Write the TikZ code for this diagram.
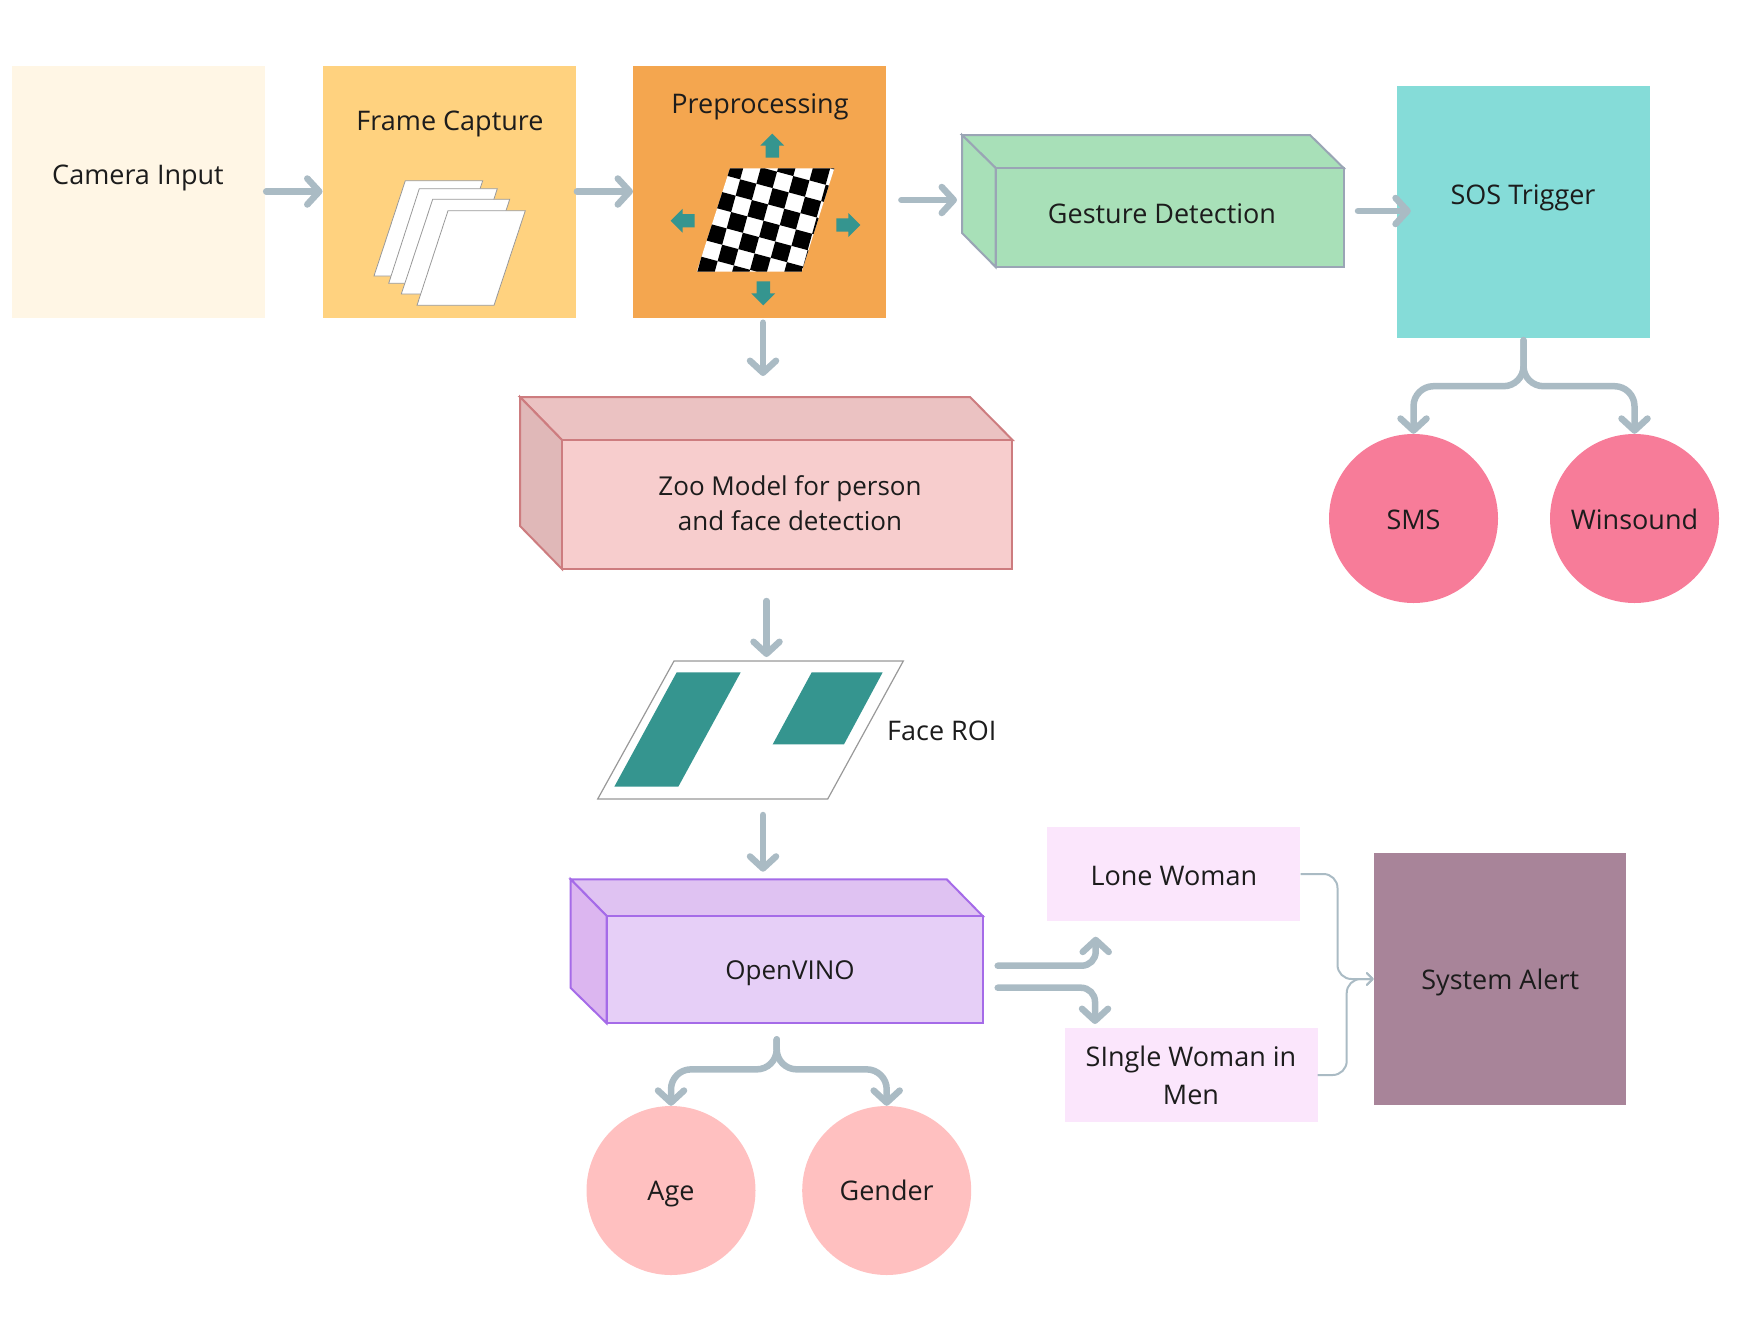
\documentclass[tikz,border=0pt]{standalone}
\usepackage{fontspec}
\setmainfont{Open Sans}
\usetikzlibrary{positioning,arrows.meta,calc,shapes.arrows}

\definecolor{campale}{HTML}{FFF6E5}
\definecolor{framefill}{HTML}{FFD27F}
\definecolor{prefill}{HTML}{F4A64F}
\definecolor{sosfill}{HTML}{85DCD8}
\definecolor{smsfill}{HTML}{F77C99}
\definecolor{agefill}{HTML}{FFC0C0}
\definecolor{alertfill}{HTML}{A88499}
\definecolor{womanfill}{HTML}{FBE6FC}
\definecolor{flowgrey}{HTML}{AABBC4}
\definecolor{tealdark}{HTML}{35958F}
\definecolor{inkdark}{HTML}{1C1C1C}
\definecolor{gesturefill}{HTML}{A8E0B8}
\definecolor{gestureline}{HTML}{9AA5B5}
\definecolor{zoofill}{HTML}{F7CDCD}
\definecolor{zootop}{HTML}{EBC2C2}
\definecolor{zooside}{HTML}{E0B8B8}
\definecolor{zooline}{HTML}{CD7C7F}
\definecolor{vinofill}{HTML}{E6CFF7}
\definecolor{vinotop}{HTML}{DFC2F2}
\definecolor{vinoside}{HTML}{DCB6F0}
\definecolor{vinoline}{HTML}{A56BE8}

\begin{document}
\begin{tikzpicture}[
  x=1pt, y=-1pt,
  txt/.style={font=\fontsize{27}{36}\selectfont, text=inkdark, align=center, inner sep=0pt},
  capline/.style={txt, text height=19.5pt, text depth=0pt},
  lowline/.style={text height=21.5pt},
  panel/.style={minimum width=253pt, minimum height=252pt, inner sep=0pt},
  womanbox/.style={txt, fill=womanfill, minimum width=253pt, minimum height=94pt},
  disc/.style={capline, circle, minimum size=169pt},
  sheet/.style={fill=white, draw=gray!80, line width=0.8pt},
  flow/.style={draw=flowgrey, line width=6.5pt, line cap=round, rounded corners=20pt,
    -{Straight Barb[length=12pt,width=26pt,round]}},
  thinflow/.style={draw=flowgrey, line width=2pt, rounded corners=14pt,
    -{Straight Barb[length=6pt,width=12pt,round]}},
  tealarrow/.style={single arrow, fill=tealdark, minimum height=24pt, minimum width=23.4pt,
    single arrow head extend=5.2pt, inner xsep=0pt, inner ysep=6.5pt}
]
  \useasboundingbox (0,0) rectangle (1760,1341);

  % Top row
  \node[panel, fill=campale] (camera) at (138.5,191.5) {};
  \node[capline] (cameratxt) at (138,174.5) {Camera Input};
  \node[panel, fill=framefill] (frame) at (449.2,191.5) {};
  \node[capline] (frametxt) at (450,120.5) {Frame Capture};
  \node[panel, fill=prefill] (preproc) at (759.7,191.5) {};
  \node[capline] (preproctxt) at (760,103.5) {Preprocessing};
  \node[panel, fill=sosfill] (sos) at (1523.5,212) {};
  \node[capline] (sostxt) at (1523,195) {SOS Trigger};

  % Frames
  \draw[sheet] (405.3,180.7) -- (482.7,180.7) -- (451.7,276) -- (374,276) -- cycle;
  \draw[sheet] (419.3,188.7) -- (497.3,188.7) -- (466.7,283.3) -- (388.7,283.3) -- cycle;
  \draw[sheet] (432.7,199.3) -- (509.7,199.3) -- (479,294) -- (401.3,294) -- cycle;
  \draw[sheet] (448,210.7) -- (525.3,210.7) -- (494,305.3) -- (417,305.3) -- cycle;

  % Checker board
  \fill[white] (730,168.3) -- (834.3,168.3) -- (801.7,271.7) -- (696.7,271.7) -- cycle;
  \begin{scope}
    \clip (730,168.3) -- (834.3,168.3) -- (801.7,271.7) -- (696.7,271.7) -- cycle;
    \foreach \i in {-5,...,5}
      \foreach \j in {-5,...,6}
        \fill[black, shift={({766.7-20.7*\i+11.7*\j},{177.7+12*\i+20.7*\j})}]
          (-10.35,6) -- (5.85,10.35) -- (10.35,-6) -- (-5.85,-10.35) -- cycle;
  \end{scope}
  \node[tealarrow, rotate=90] (tup) at (772.3,149) {};
  \node[tealarrow, rotate=270] (tdown) at (763.3,290) {};
  \node[tealarrow, rotate=180] (tleft) at (686,220.7) {};
  \node[tealarrow] (tright) at (845,225) {};

  % Gesture box
  \filldraw[fill=gesturefill, draw=gestureline, line width=2pt]
    (962,135) -- (1310,135) -- (1343.6,168) -- (995.6,168) -- cycle;
  \filldraw[fill=gesturefill, draw=gestureline, line width=2pt]
    (962,135) -- (995.6,168) -- (995.6,267) -- (962,233) -- cycle;
  \node[fill=gesturefill, draw=gestureline, line width=2pt, minimum width=348pt, minimum height=99pt]
    (gesture) at (1169.6,217.5) {};
  \node[capline] (gesturetxt) at (1162,214) {Gesture Detection};

  % Zoo box
  \filldraw[fill=zootop, draw=zooline, line width=2pt]
    (520,397) -- (970,397) -- (1012.5,440) -- (562,440) -- cycle;
  \filldraw[fill=zooside, draw=zooline, line width=2pt]
    (520,397) -- (562,440) -- (562,569) -- (520,526) -- cycle;
  \node[fill=zoofill, draw=zooline, line width=2pt, minimum width=450.5pt, minimum height=129pt]
    (zoo) at (787.2,504.5) {};
  \node[txt, font=\fontsize{26}{34.5}\selectfont] (zootxt) at (790,503) {Zoo Model for person\\and face detection};

  % Face ROI
  \draw[sheet, line width=1.2pt] (674,661) -- (903.3,661) -- (827.7,799) -- (597.7,799) -- cycle;
  \fill[tealdark] (676.7,672.3) -- (740.7,672.3) -- (678.3,786.7) -- (614.3,786.7) -- cycle;
  \fill[tealdark] (811.7,672.3) -- (882.7,672.3) -- (844,744.3) -- (772.7,744.3) -- cycle;
  \node[capline, anchor=west] (roitxt) at (887,730.6) {Face ROI};

  % OpenVINO box
  \filldraw[fill=vinotop, draw=vinoline, line width=2pt]
    (570.7,879.3) -- (946.7,879.3) -- (982.7,916) -- (606.7,916) -- cycle;
  \filldraw[fill=vinoside, draw=vinoline, line width=2pt]
    (570.7,879.3) -- (606.7,916) -- (606.7,1023.3) -- (570.7,988) -- cycle;
  \node[fill=vinofill, draw=vinoline, line width=2pt, minimum width=376pt, minimum height=107.3pt]
    (vino) at (794.7,969.7) {};
  \node[capline, font=\fontsize{26}{36}\selectfont] (vinotxt) at (790,970) {OpenVINO};

  % Circles
  \node[disc, lowline, fill=smsfill] (sms) at (1413.5,518.5) {SMS};
  \node[disc, lowline, fill=smsfill] (winsound) at (1634.5,518.5) {Winsound};
  \node[disc, fill=agefill] (age) at (671,1190.5) {Age};
  \node[disc, fill=agefill] (gender) at (886.7,1190.5) {Gender};

  % Outcome boxes
  \node[womanbox, capline, text height=23.5pt] (lone) at (1173.8,874) {Lone Woman};
  \node[womanbox, font=\fontsize{27}{38}\selectfont] (single) at (1191,1075) {SIngle Woman in\\Men};
  \node[capline, lowline, fill=alertfill, minimum width=252.5pt, minimum height=252.3pt] (alert) at (1500.2,979) {System Alert};

  % Free ends
  \coordinate (gesturein) at (957,200);
  \coordinate (zooin) at (763,376);
  \coordinate (roiin) at (766.5,657);
  \coordinate (roiout) at (763,815);
  \coordinate (vinoin) at (763,871.7);
  \coordinate (upin) at (1095.7,936.7);
  \coordinate (downin) at (1095,1024);

  % Arrows
  \draw[flow] ([xshift=1pt]camera.east) -- (frame.west);
  \draw[flow] ([xshift=1pt]frame.east) -- (preproc.west);
  \draw[flow] ([xshift=15pt,yshift=-8.5pt]preproc.east) -- (gesturein);
  \draw[flow] ([xshift=13.4pt,yshift=6.5pt]gesture.east) -- ([xshift=14pt,yshift=1pt]sos.west);
  \draw[flow] ([xshift=3.3pt,yshift=-5pt]preproc.south) -- (zooin);
  \draw[flow] ([xshift=-20.7pt,yshift=-31pt]zoo.south) -- (roiin);
  \draw[flow] (roiout) -- (vinoin);
  \draw[flow] ([yshift=-2pt]sos.south) -- ++(0,46) -| (sms.north);
  \draw[flow] ([yshift=-2pt]sos.south) -- ++(0,46) -| (winsound.north);
  \draw[flow] ([xshift=-18pt,yshift=-15pt]vino.south) -- ++(0,30) -| (age.north);
  \draw[flow] ([xshift=-18pt,yshift=-15pt]vino.south) -- ++(0,30) -| (gender.north);
  \draw[flow, rounded corners=14pt] ([xshift=14pt,yshift=4pt]vino.east) -| (upin);
  \draw[flow, rounded corners=14pt] ([xshift=14pt,yshift=-18pt]vino.east) -| (downin);
  \draw[thinflow] (lone.east) -- ++(37,0) |- (alert.west);
  \draw[thinflow] (single.east) -- ++(29,0) |- (alert.west);
\end{tikzpicture}
\end{document}
